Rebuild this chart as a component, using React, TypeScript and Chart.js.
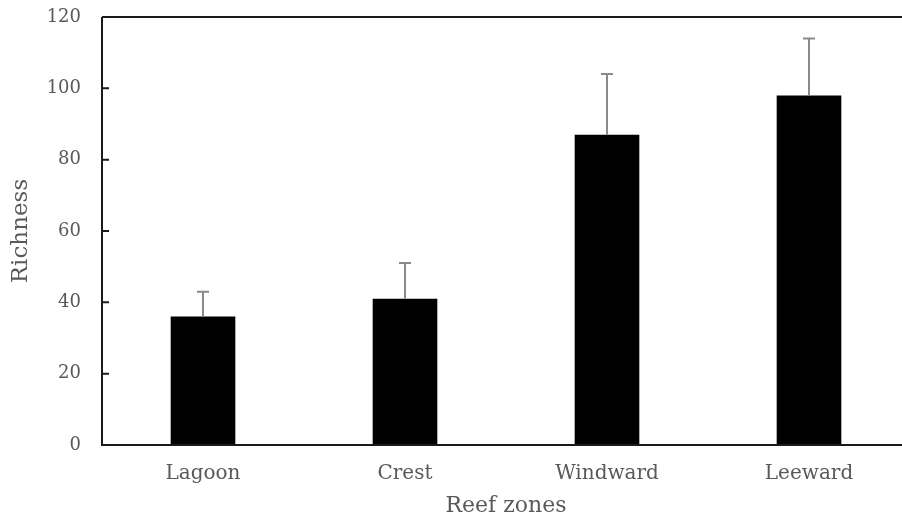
import React, { useEffect, useRef } from "react";
import { Chart, registerables } from "chart.js";

Chart.register(...registerables);

const categories = ["Lagoon", "Crest", "Windward", "Leeward"];
const richness = [36, 41, 87, 98];
const errorUp = [7, 10, 17, 16];
const yTicks = [0, 20, 40, 60, 80, 100, 120];

const TEXT = "#595959";
const FONT = "'DejaVu Serif', serif";

const framePlugin = {
  id: "frame",
  afterDatasetsDraw(chart: any) {
    const { ctx, chartArea } = chart;
    const x = chart.scales.x;
    const y = chart.scales.y;
    ctx.save();
    // error bars
    ctx.strokeStyle = "#8a8a8a";
    ctx.lineWidth = 2;
    richness.forEach((v, i) => {
      const cx = x.getPixelForValue(i);
      const y0 = y.getPixelForValue(v);
      const y1 = y.getPixelForValue(v + errorUp[i]);
      ctx.beginPath();
      ctx.moveTo(cx, y0);
      ctx.lineTo(cx, y1);
      ctx.moveTo(cx - 6, y1);
      ctx.lineTo(cx + 6, y1);
      ctx.stroke();
    });
    // axes
    ctx.strokeStyle = "#1a1a1a";
    ctx.lineWidth = 2;
    ctx.beginPath();
    ctx.moveTo(chartArea.left, chartArea.top);
    ctx.lineTo(chartArea.right, chartArea.top);
    ctx.moveTo(chartArea.left, chartArea.top);
    ctx.lineTo(chartArea.left, chartArea.bottom);
    ctx.lineTo(chartArea.right, chartArea.bottom);
    yTicks.forEach((t) => {
      if (t === 0 || t === 120) return;
      const py = y.getPixelForValue(t);
      ctx.moveTo(chartArea.left, py);
      ctx.lineTo(chartArea.left + 7, py);
    });
    ctx.stroke();
    ctx.restore();
  },
};

export default function App() {
  const ref = useRef<HTMLCanvasElement>(null);
  useEffect(() => {
    if (!ref.current) return;
    const chart = new Chart(ref.current, {
      type: "bar",
      data: {
        labels: categories,
        datasets: [
          {
            data: richness,
            backgroundColor: "#000000",
            borderWidth: 0,
            barPercentage: 0.32,
            categoryPercentage: 1,
          },
        ],
      },
      options: {
        animation: false,
        responsive: false,
        layout: { padding: { top: 17, right: 2, left: 0, bottom: 0 } },
        plugins: { legend: { display: false }, tooltip: { enabled: false } },
        scales: {
          x: {
            grid: { display: false, drawTicks: false },
            border: { display: false },
            ticks: { color: TEXT, font: { family: FONT, size: 20 }, padding: 17 },
            title: {
              display: true,
              text: "Reef zones",
              color: TEXT,
              font: { family: FONT, size: 22 },
              padding: { top: 9, bottom: 0 },
            },
            afterFit: (s: any) => {
              s.height = 74;
              s.paddingLeft = 0;
              s.paddingRight = 0;
            },
          },
          y: {
            min: 0,
            max: 120,
            grid: { display: false, drawTicks: false },
            border: { display: false },
            afterBuildTicks: (s: any) => {
              s.ticks = yTicks.map((v) => ({ value: v }));
            },
            ticks: { color: TEXT, font: { family: FONT, size: 18 }, padding: 21 },
            title: {
              display: true,
              text: "Richness",
              color: TEXT,
              font: { family: FONT, size: 23 },
              padding: { top: 7, bottom: 0 },
            },
            afterFit: (s: any) => {
              s.width = 102;
              s.paddingTop = 0;
              s.paddingBottom = 0;
            },
          },
        },
      },
      plugins: [framePlugin],
    });
    return () => chart.destroy();
  }, []);
  return (
    <div
      style={{
        position: "absolute",
        left: 0,
        top: 0,
        width: 902,
        height: 519,
        overflow: "hidden",
        background: "#fff",
      }}
    >
      <canvas ref={ref} width={912} height={519} style={{ width: 912, height: 519, display: "block" }} />
    </div>
  );
}
